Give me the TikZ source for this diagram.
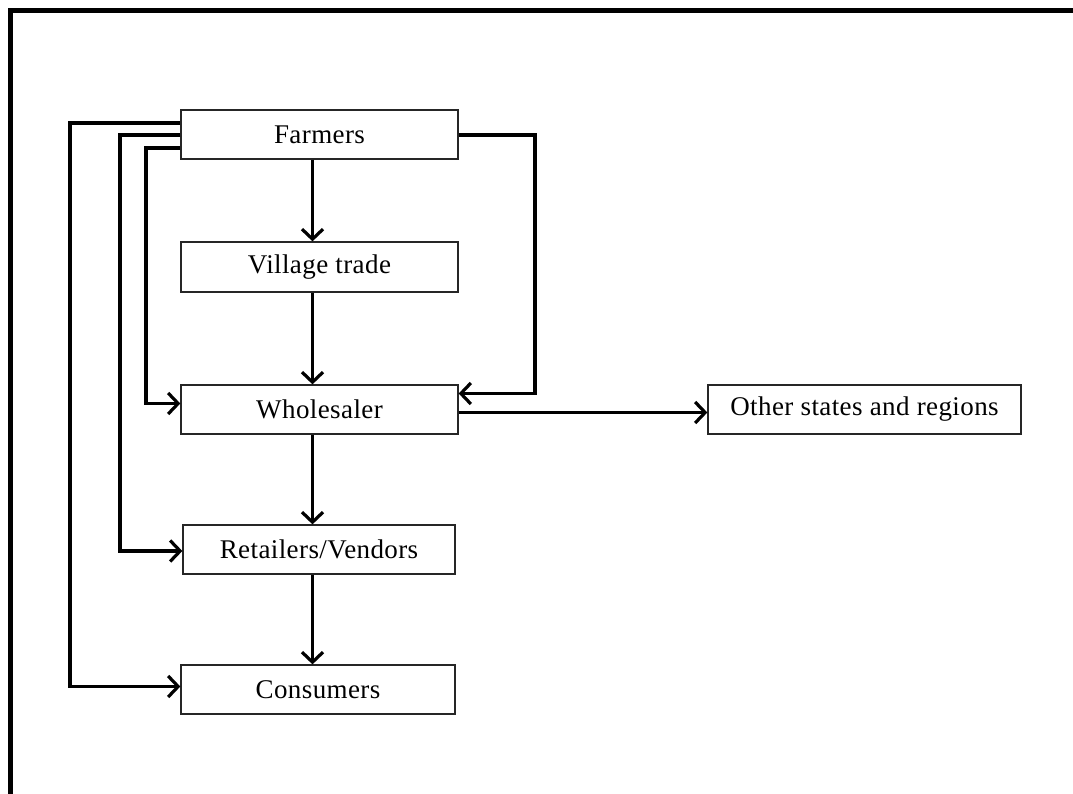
\documentclass[tikz,border=0pt]{standalone}
\usepackage{fontspec}
\setmainfont[LetterSpace=1.5]{Liberation Serif}
\usetikzlibrary{arrows.meta}
\begin{document}
\begin{tikzpicture}[x=1pt,y=-1pt,
  box/.style={draw=black!85,line width=1.3pt,fill=white,inner sep=0pt,
    font=\fontsize{27}{31}\selectfont},
  arr/.style={line width=3.2pt,-{Straight Barb[length=10pt,width=21pt]}},
  frame/.style={line width=5pt}]
\useasboundingbox (0,0) rectangle (1073,794);
\draw[frame] (10.8,794) -- (10.8,10.8) -- (1073,10.8);
\node[box,minimum width=277pt,minimum height=49pt] (farm) at (319.5,134.5) {Farmers};
\node[box,minimum width=277pt,minimum height=50pt] (vill) at (319.5,267) {Village trade};
\node[box,minimum width=277pt,minimum height=49pt] (whol) at (319.5,409.5) {Wholesaler};
\node[box,minimum width=313pt,minimum height=49pt] (oth) at (864.5,409.5) {Other states and regions};
\node[box,minimum width=272pt,minimum height=49pt] (ret) at (319,549.5) {Retailers/Vendors};
\node[box,minimum width=274pt,minimum height=49pt] (cons) at (318,689.5) {Consumers};
\coordinate (a1) at (70,123);
\coordinate (a2) at (120,135);
\coordinate (a3) at (146,148);
\coordinate (r1) at (535,135);
\draw[arr] (farm.west |- a1) -- (a1) |- ([yshift=3pt]cons.west);
\draw[arr] (farm.west |- a2) -- (a2) |- ([yshift=-1.5pt]ret.west);
\draw[arr] (farm.west |- a3) -- (a3) |- ([yshift=6pt]whol.west);
\draw[arr] (farm.east |- r1) -- (r1) |- ([yshift=16pt]whol.east);
\draw[arr] ([xshift=-7pt]farm.south) -- ([xshift=-7pt]vill.north);
\draw[arr] ([xshift=-7pt]vill.south) -- ([xshift=-7pt]whol.north);
\draw[arr] ([xshift=-7pt]whol.south) -- ([xshift=-6.5pt]ret.north);
\draw[arr] ([xshift=-6.5pt]ret.south) -- ([xshift=-5.5pt]cons.north);
\draw[arr] ([yshift=-3pt]whol.east) -- ([yshift=-3pt]oth.west);
\end{tikzpicture}
\end{document}
